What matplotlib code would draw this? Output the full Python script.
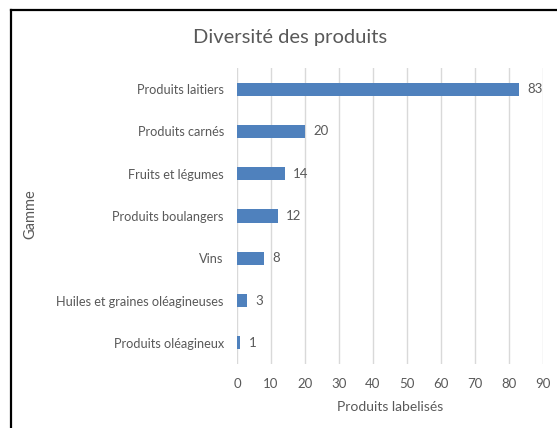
import matplotlib.pyplot as plt
from matplotlib.lines import Line2D

categories = [
    'Produits laitiers',
    'Produits carnés',
    'Fruits et légumes',
    'Produits boulangers',
    'Vins',
    'Huiles et graines oléagineuses',
    'Produits oléagineux',
]
values = [83, 20, 14, 12, 8, 3, 1]
xticks = list(range(0, 100, 10))

text_color = '#595959'
bar_color = '#4F81BD'
grid_color = '#D9D9D9'

plt.rcParams['font.family'] = ['Lato', 'DejaVu Sans']

fig = plt.figure(figsize=(5.57, 4.28), dpi=100)
ax = fig.add_axes([237 / 557, 1 - 364 / 428, (543 - 237) / 557, (364 - 68) / 428])

ypos = list(range(len(categories)))
ax.barh(ypos, values, height=0.31, color=bar_color, zorder=3)
ax.set_ylim(len(categories) - 0.5, -0.5)
ax.set_xlim(0, 90)
ax.set_yticks(ypos)
ax.set_yticklabels(categories)
ax.set_xticks(xticks)

for y, v in zip(ypos, values):
    ax.annotate(str(v), (v, y), xytext=(6, 0), textcoords='offset points',
                va='center', ha='left', fontsize=9.5, color=text_color)

ax.grid(axis='x', color=grid_color, linewidth=1, zorder=0)
for s in ax.spines.values():
    s.set_visible(False)
ax.tick_params(axis='both', length=0, labelsize=9.5, labelcolor=text_color)
ax.tick_params(axis='y', pad=9.5, labelsize=9.2)
ax.tick_params(axis='x', pad=10)

ax.set_xlabel('Produits labelisés', fontsize=10, color=text_color, labelpad=8)
fig.text(30 / 557, 1 - 214 / 428, 'Gamme', rotation=90, ha='center', va='center',
         fontsize=10.5, color=text_color)
fig.text(290 / 557, 1 - 38 / 428, 'Diversité des produits', ha='center', va='center',
         fontsize=14.5, color=text_color)

# black frame (top and left edges visible)
fig.add_artist(Line2D([10.5 / 557, 10.5 / 557], [0, 1 - 9.5 / 428], color='black', linewidth=1.6,
                      transform=fig.transFigure))
fig.add_artist(Line2D([10.5 / 557, 1], [1 - 9.5 / 428, 1 - 9.5 / 428], color='black', linewidth=1.6,
                      transform=fig.transFigure))

fig.savefig('out.png', dpi=100)
